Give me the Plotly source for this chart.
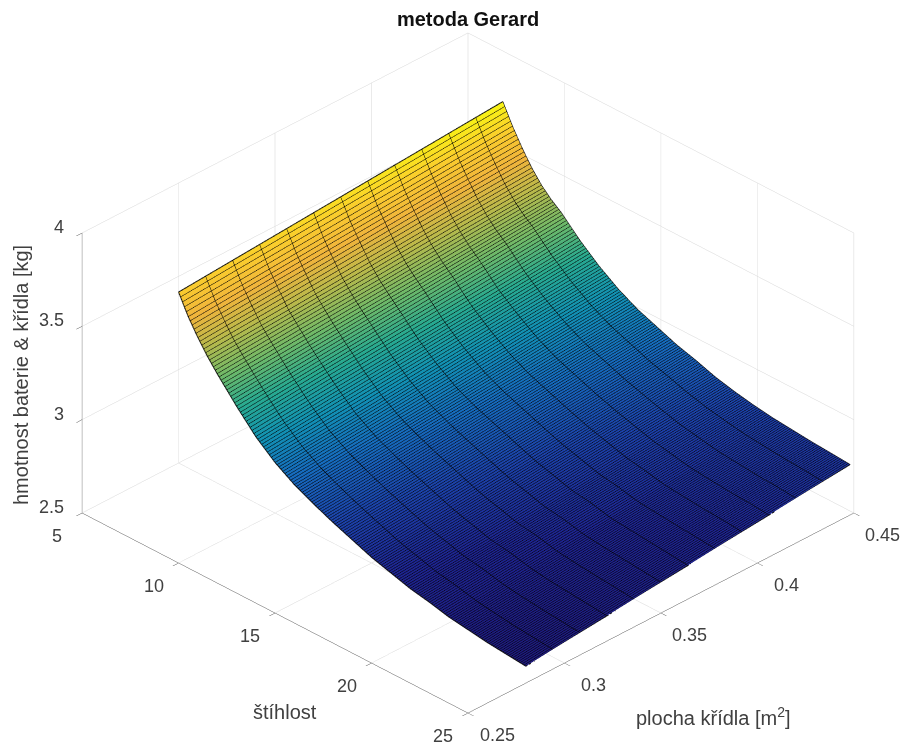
import plotly.graph_objects as go

stihlost = [7, 7.5, 8, 8.5, 9, 9.5, 10, 11, 12, 13, 14, 15, 16, 17, 18, 19, 20, 21, 22, 23, 24, 25]
plocha = [0.28, 0.322, 0.364, 0.406, 0.448]
# each row: one wing area, each column: one slenderness value
hmotnost = [
    [3.63, 3.525, 3.44, 3.365, 3.30, 3.24, 3.18, 3.07, 2.985, 2.92, 2.87, 2.825, 2.785, 2.745, 2.715, 2.685, 2.665, 2.64, 2.625, 2.61, 2.60, 2.59],
    [3.66, 3.555, 3.47, 3.39, 3.33, 3.27, 3.215, 3.11, 3.02, 2.955, 2.905, 2.86, 2.82, 2.78, 2.75, 2.72, 2.705, 2.68, 2.665, 2.655, 2.645, 2.635],
    [3.69, 3.585, 3.50, 3.42, 3.355, 3.30, 3.25, 3.145, 3.06, 2.99, 2.94, 2.90, 2.86, 2.82, 2.79, 2.76, 2.745, 2.72, 2.71, 2.70, 2.69, 2.68],
    [3.72, 3.615, 3.53, 3.45, 3.385, 3.33, 3.285, 3.18, 3.10, 3.03, 2.975, 2.935, 2.895, 2.86, 2.83, 2.80, 2.78, 2.76, 2.75, 2.74, 2.735, 2.725],
    [3.75, 3.645, 3.555, 3.475, 3.41, 3.36, 3.32, 3.22, 3.135, 3.065, 3.01, 2.97, 2.93, 2.90, 2.865, 2.84, 2.82, 2.805, 2.795, 2.785, 2.778, 2.77],
]
x_ticks = [5, 10, 15, 20, 25]
y_ticks = [0.25, 0.3, 0.35, 0.4, 0.45]
z_ticks = [2.5, 3, 3.5, 4]

# parula as it looks under the very dense black mesh of the reference
colors = [
    [0.0, "rgb(30,26,125)"], [0.1, "rgb(30,36,145)"], [0.2, "rgb(28,66,170)"],
    [0.3, "rgb(22,108,190)"], [0.4, "rgb(18,145,180)"], [0.5, "rgb(40,170,145)"],
    [0.6, "rgb(110,185,105)"], [0.7, "rgb(185,185,75)"], [0.8, "rgb(240,180,60)"],
    [0.9, "rgb(250,205,45)"], [1.0, "rgb(249,245,20)"],
]

font = "Liberation Sans, Arial, sans-serif"
grey = "#404040"

fig = go.Figure(go.Surface(
    x=stihlost, y=plocha, z=hmotnost,
    colorscale=colors, showscale=False,
    lighting=dict(ambient=1, diffuse=0, specular=0, roughness=1, fresnel=0),
    contours=dict(
        x=dict(show=True, start=7, end=24.95, size=0.1, color="black", width=2, highlight=False),
        y=dict(show=True, start=0.28, end=0.448, size=0.014, color="black", width=2, highlight=False),
        z=dict(show=False, highlight=False),
    ),
    hoverinfo="skip",
))

# black outline of the surface, taken from the same table
edge_x = stihlost + [stihlost[-1]] * len(plocha) + stihlost[::-1] + [stihlost[0]] * len(plocha)
edge_y = [plocha[0]] * len(stihlost) + plocha + [plocha[-1]] * len(stihlost) + plocha[::-1]
edge_z = hmotnost[0] + [r[-1] for r in hmotnost] + hmotnost[-1][::-1] + [r[0] for r in hmotnost[::-1]]
fig.add_trace(go.Scatter3d(x=edge_x, y=edge_y, z=edge_z, mode="lines",
                           line=dict(color="#101010", width=2), hoverinfo="skip", showlegend=False))

def axis(rng, ticks):
    return dict(
        range=rng, tickvals=ticks, showticklabels=False, title=dict(text=""),
        showbackground=False, showgrid=True, gridcolor="#d6d6d6", gridwidth=1,
        showline=True, linecolor="#555555", linewidth=1,
        ticks="outside", ticklen=8, tickcolor="#555555", zeroline=False, showspikes=False,
    )

def tick_label(x, y, z, text, xs, ys, anchor="center"):
    return dict(x=x, y=y, z=z, text=text, showarrow=False, xanchor=anchor, yanchor="middle",
                xshift=xs, yshift=ys, font=dict(family=font, size=18, color=grey))

labels = []
for t in x_ticks:
    labels.append(tick_label(t, 0.25, 2.5, str(t), -25, -23))
for t in y_ticks:
    labels.append(tick_label(25, t, 2.5, str(t), 29, -22))
for t in z_ticks:
    labels.append(tick_label(5, 0.25, t, str(t), -16, 6, "right"))

fig.update_layout(
    width=907, height=745, paper_bgcolor="white", showlegend=False,
    margin=dict(l=0, r=0, t=0, b=0),
    title=dict(text="<b>metoda Gerard</b>", x=0.516, xanchor="center", y=0.9745, yanchor="middle",
               font=dict(family=font, size=20, color="#111111")),
    scene=dict(
        domain=dict(x=[0.032, 1], y=[0.0027, 0.9957]),
        xaxis=axis([5, 25], x_ticks),
        yaxis=axis([0.25, 0.45], y_ticks),
        zaxis=axis([2.5, 4], z_ticks),
        aspectmode="manual", aspectratio=dict(x=1.475, y=1.475, z=0.885),
        camera=dict(projection=dict(type="orthographic"),
                    eye=dict(x=1.1, y=-1.1, z=0.943), center=dict(x=0, y=0, z=0), up=dict(x=0, y=0, z=1)),
        annotations=labels,
    ),
    annotations=[
        dict(text="štíhlost", x=285, y=712, showarrow=False),
        dict(text="plocha křídla [m<sup>2</sup>]", x=713, y=716, showarrow=False),
        dict(text="hmotnost baterie &amp; křídla [kg]", x=21, y=375, showarrow=False, textangle=-90),
    ],
)
for a in fig.layout.annotations:
    a.xref = "paper"
    a.yref = "paper"
    a.x = a.x / 907
    a.y = 1 - a.y / 745
    a.xanchor = "center"
    a.yanchor = "middle"
    a.font = dict(family=font, size=20, color=grey)

fig.write_html("out.html", config=dict(displayModeBar=False),
               post_script="document.body.style.margin='0';document.body.style.overflow='hidden';")
